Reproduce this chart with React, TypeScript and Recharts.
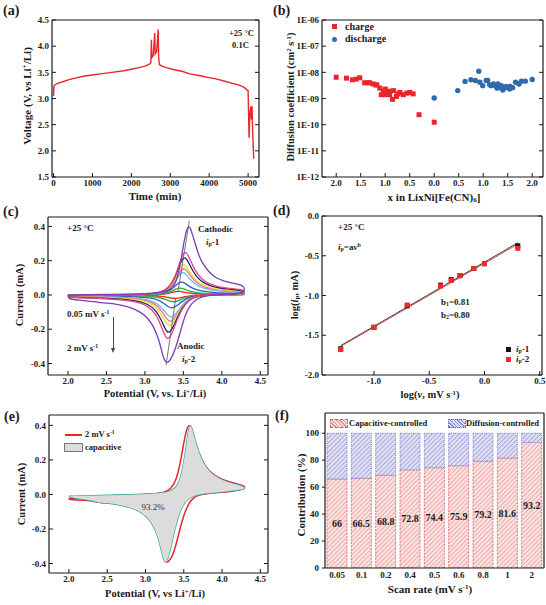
import React from 'react';
import { ComposedChart, Line, Scatter, XAxis, YAxis, BarChart, Bar, LabelList } from 'recharts';

const SERIF = '"Liberation Serif", "Times New Roman", serif';
const INK = '#1a1a1a';

// (a) GITT voltage profile, +25 °C, 0.1C
const timeMin = [0, 8, 30, 100, 200, 400, 600, 800, 1000, 1200, 1500, 1800, 2000, 2200, 2350, 2450, 2500, 2515, 2525, 2560, 2600, 2612, 2650, 2690, 2700, 2720, 2780, 2900, 3100, 3300, 3500, 3800, 4000, 4200, 4400, 4600, 4750, 4850, 4920, 4960, 5000, 5025, 5045, 5070, 5085, 5100, 5120, 5145];
const voltage = [3.05, 3.23, 3.26, 3.29, 3.31, 3.36, 3.4, 3.43, 3.45, 3.47, 3.5, 3.53, 3.56, 3.59, 3.62, 3.65, 3.68, 4.12, 3.78, 3.82, 4.25, 3.85, 3.9, 4.32, 3.8, 3.65, 3.62, 3.59, 3.55, 3.52, 3.47, 3.43, 3.4, 3.37, 3.33, 3.29, 3.26, 3.23, 3.2, 3.17, 3.15, 2.25, 2.7, 2.85, 2.6, 2.85, 2.3, 1.85];

// (b) diffusion coefficient vs Li content
const chargeLi = [2.0, 1.79, 1.67, 1.59, 1.52, 1.42, 1.35, 1.32, 1.25, 1.19, 1.17, 1.11, 1.08, 1.04, 1.01, 1.0, 0.97, 0.93, 0.91, 0.85, 0.83, 0.77, 0.74, 0.7, 0.63, 0.56, 0.5, 0.43, 0.31, 0.0];
const chargeD = [6.5e-9, 6.0e-9, 5.2e-9, 5.5e-9, 6.2e-9, 4.0e-9, 4.0e-9, 4.0e-9, 3.6e-9, 3.3e-9, 3.3e-9, 2.5e-9, 1.4e-9, 1.9e-9, 1.4e-9, 2.3e-9, 1.5e-9, 1.9e-9, 1.4e-9, 0.93e-9, 2.0e-9, 1.2e-9, 1.5e-9, 1.7e-9, 1.4e-9, 1.6e-9, 1.7e-9, 1.5e-9, 2.4e-10, 1.24e-10];
const dischargeLi = [0.0, 0.48, 0.63, 0.75, 0.84, 0.91, 0.93, 0.99, 1.06, 1.09, 1.13, 1.16, 1.21, 1.25, 1.28, 1.3, 1.33, 1.37, 1.4, 1.43, 1.47, 1.5, 1.54, 1.55, 1.6, 1.66, 1.73, 1.78, 1.86, 2.0];
const dischargeD = [1.05e-9, 2.0e-9, 4.5e-9, 5.2e-9, 4.9e-9, 1.1e-8, 4.2e-9, 3.1e-9, 4.9e-9, 4.9e-9, 3.4e-9, 3.1e-9, 3.6e-9, 3.1e-9, 2.5e-9, 3.6e-9, 2.6e-9, 3.1e-9, 2.1e-9, 2.6e-9, 2.9e-9, 2.6e-9, 2.3e-9, 2.9e-9, 2.6e-9, 4.2e-9, 3.6e-9, 4.6e-9, 4.6e-9, 5.3e-9];
const liTickPos = [0, 0.5, 1, 1.5, 2, 2.5, 3, 3.5, 4];
const liTickLabels = ['2.0', '1.5', '1.0', '0.5', '0.0', '0.5', '1.0', '1.5', '2.0'];
const logTicks = [1e-12, 1e-11, 1e-10, 1e-9, 1e-8, 1e-7, 1e-6];

// (c) CV loops at different scan rates, [V, mA]
const cvColors = ['#e8262a', '#35b236', '#3558c4', '#52c6e6', '#f26aa8', '#f0dc1e', '#1e2668', '#ec3f8e', '#7a3db6'];
const cv005 = [[2.0, -0.001], [2.6, 0.0], [3.0, 0.0], [3.13, 0.001], [3.23, 0.004], [3.31, 0.009], [3.37, 0.017], [3.41, 0.0205], [3.44, 0.021], [3.47, 0.02], [3.52, 0.015], [3.59, 0.01], [3.69, 0.006], [3.83, 0.004], [4.01, 0.003], [4.3, 0.003],
  [4.3, 0.001], [4.0, 0.0], [3.84, 0.0], [3.71, -0.001], [3.61, -0.004], [3.52, -0.01], [3.45, -0.017], [3.4, -0.02], [3.37, -0.0195], [3.33, -0.017], [3.28, -0.012], [3.22, -0.008], [3.13, -0.005], [2.94, -0.003], [2.59, -0.002], [2.0, -0.001]];
const cv01 = [[2.0, -0.001], [2.6, 0.0], [3.0, 0.001], [3.15, 0.002], [3.25, 0.007], [3.33, 0.018], [3.39, 0.032], [3.43, 0.039], [3.46, 0.04], [3.49, 0.038], [3.54, 0.029], [3.61, 0.019], [3.71, 0.012], [3.85, 0.008], [4.03, 0.006], [4.3, 0.005],
  [4.3, 0.001], [4.0, 0.0], [3.82, -0.001], [3.69, -0.002], [3.59, -0.008], [3.5, -0.02], [3.43, -0.034], [3.39, -0.039], [3.36, -0.04], [3.33, -0.037], [3.28, -0.028], [3.21, -0.017], [3.11, -0.01], [2.92, -0.005], [2.57, -0.003], [2.0, -0.002]];
const cv02 = [[2.0, -0.002], [2.6, 0.0], [3.0, 0.001], [3.17, 0.005], [3.27, 0.014], [3.35, 0.034], [3.41, 0.061], [3.45, 0.074], [3.48, 0.076], [3.51, 0.071], [3.56, 0.055], [3.63, 0.036], [3.73, 0.023], [3.87, 0.015], [4.05, 0.011], [4.3, 0.009],
  [4.3, 0.002], [4.0, 0.001], [3.8, -0.001], [3.67, -0.005], [3.57, -0.015], [3.48, -0.038], [3.41, -0.065], [3.37, -0.074], [3.34, -0.076], [3.31, -0.071], [3.26, -0.053], [3.19, -0.032], [3.09, -0.018], [2.9, -0.01], [2.55, -0.006], [2.0, -0.005]];
const cv04 = [[2.0, -0.003], [2.6, -0.001], [3.0, 0.001], [3.19, 0.008], [3.29, 0.024], [3.37, 0.059], [3.43, 0.106], [3.47, 0.128], [3.5, 0.132], [3.53, 0.124], [3.58, 0.095], [3.65, 0.063], [3.75, 0.04], [3.89, 0.026], [4.07, 0.02], [4.3, 0.016],
  [4.3, 0.004], [4.0, 0.001], [3.79, -0.001], [3.66, -0.008], [3.56, -0.026], [3.47, -0.065], [3.4, -0.111], [3.36, -0.127], [3.33, -0.13], [3.3, -0.121], [3.25, -0.091], [3.18, -0.055], [3.08, -0.031], [2.89, -0.017], [2.54, -0.01], [2.0, -0.008]];
const cv05 = [[2.0, -0.003], [2.6, -0.001], [3.0, 0.002], [3.2, 0.009], [3.3, 0.028], [3.38, 0.07], [3.44, 0.124], [3.48, 0.151], [3.51, 0.155], [3.54, 0.146], [3.59, 0.112], [3.66, 0.074], [3.76, 0.047], [3.9, 0.031], [4.08, 0.023], [4.3, 0.019],
  [4.3, 0.005], [4.0, 0.002], [3.78, -0.002], [3.65, -0.009], [3.55, -0.031], [3.46, -0.078], [3.39, -0.132], [3.35, -0.151], [3.32, -0.155], [3.29, -0.144], [3.24, -0.109], [3.17, -0.065], [3.07, -0.037], [2.88, -0.02], [2.53, -0.012], [2.0, -0.009]];
const cv06 = [[2.0, -0.004], [2.6, -0.001], [3.0, 0.002], [3.2, 0.011], [3.3, 0.032], [3.38, 0.08], [3.44, 0.142], [3.48, 0.173], [3.51, 0.178], [3.54, 0.167], [3.59, 0.128], [3.66, 0.085], [3.76, 0.053], [3.9, 0.036], [4.08, 0.027], [4.3, 0.021],
  [4.3, 0.006], [4.0, 0.002], [3.77, -0.002], [3.64, -0.011], [3.54, -0.036], [3.45, -0.09], [3.38, -0.153], [3.34, -0.175], [3.31, -0.18], [3.28, -0.167], [3.23, -0.126], [3.16, -0.076], [3.06, -0.043], [2.87, -0.023], [2.52, -0.014], [2.0, -0.011]];
const cv08 = [[2.0, -0.004], [2.6, -0.001], [3.0, 0.002], [3.21, 0.013], [3.31, 0.039], [3.39, 0.099], [3.45, 0.175], [3.49, 0.213], [3.52, 0.219], [3.55, 0.206], [3.6, 0.158], [3.67, 0.105], [3.77, 0.066], [3.91, 0.044], [4.09, 0.033], [4.3, 0.026],
  [4.3, 0.007], [4.0, 0.002], [3.76, -0.002], [3.63, -0.013], [3.53, -0.044], [3.44, -0.11], [3.37, -0.187], [3.33, -0.214], [3.3, -0.22], [3.27, -0.205], [3.22, -0.154], [3.15, -0.092], [3.05, -0.053], [2.86, -0.029], [2.51, -0.018], [2.0, -0.013]];
const cv1 = [[2.0, -0.005], [2.6, -0.001], [3.0, 0.003], [3.22, 0.015], [3.32, 0.045], [3.4, 0.113], [3.46, 0.201], [3.5, 0.244], [3.53, 0.251], [3.56, 0.236], [3.61, 0.181], [3.68, 0.12], [3.78, 0.075], [3.92, 0.05], [4.1, 0.038], [4.3, 0.03],
  [4.3, 0.008], [4.0, 0.003], [3.75, -0.003], [3.62, -0.015], [3.52, -0.051], [3.43, -0.129], [3.36, -0.218], [3.32, -0.25], [3.29, -0.257], [3.26, -0.239], [3.21, -0.18], [3.14, -0.108], [3.04, -0.062], [2.85, -0.033], [2.5, -0.021], [2.0, -0.015]];
const cv2 = [[2.0, 0.0], [2.3, 0.002], [2.6, 0.004], [2.9, 0.006], [3.1, 0.01], [3.25, 0.018], [3.35, 0.035], [3.4, 0.07], [3.45, 0.15], [3.5, 0.29], [3.53, 0.36], [3.55, 0.39], [3.57, 0.4], [3.59, 0.395], [3.62, 0.35], [3.66, 0.29], [3.7, 0.23], [3.76, 0.175], [3.84, 0.13], [3.92, 0.1], [4.02, 0.082], [4.15, 0.068], [4.3, 0.055],
  [4.3, 0.012], [4.1, 0.006], [3.9, 0.002], [3.75, -0.008], [3.65, -0.03], [3.58, -0.065], [3.52, -0.12], [3.47, -0.2], [3.42, -0.28], [3.37, -0.345], [3.33, -0.38], [3.3, -0.393], [3.28, -0.395], [3.25, -0.38], [3.22, -0.33], [3.18, -0.26], [3.12, -0.19], [3.05, -0.14], [2.95, -0.1], [2.8, -0.07], [2.65, -0.055], [2.5, -0.047], [2.42, -0.046], [2.38, -0.04], [2.3, -0.038], [2.15, -0.03], [2.0, -0.024], [2.0, 0.0]];
const cvLoops = [cv005, cv01, cv02, cv04, cv05, cv06, cv08, cv1, cv2];
const peakShiftUp = [[3.43, 0.02], [3.578, 0.434]];
const peakShiftDown = [[3.4, -0.02], [3.275, -0.41]];

// (d) log(ip) vs log(v)
const logRate = [-1.301, -1.0, -0.699, -0.398, -0.301, -0.222, -0.097, 0.0, 0.301];
const logIp1 = [-1.67, -1.4, -1.13, -0.87, -0.8, -0.75, -0.66, -0.6, -0.375];
const logIp2 = [-1.68, -1.4, -1.12, -0.88, -0.81, -0.75, -0.66, -0.6, -0.407];
const fitIp1 = [[-1.3, -1.63], [0.3, -0.338]];
const fitIp2 = [[-1.3, -1.64], [0.3, -0.355]];

// (e) 2 mV/s CV and capacitive contribution
const cvTotal = [[2.0, -0.025], [2.1, -0.018], [2.4, -0.012], [2.8, -0.005], [3.1, 0.003], [3.25, 0.012], [3.33, 0.03], [3.4, 0.08], [3.45, 0.17], [3.5, 0.3], [3.54, 0.385], [3.57, 0.405], [3.6, 0.385], [3.64, 0.32], [3.7, 0.23], [3.78, 0.16], [3.88, 0.115], [4.0, 0.085], [4.15, 0.065], [4.3, 0.052],
  [4.3, 0.03], [4.15, 0.02], [4.0, 0.013], [3.8, 0.005], [3.7, -0.002], [3.62, -0.02], [3.56, -0.055], [3.5, -0.12], [3.45, -0.2], [3.4, -0.29], [3.35, -0.36], [3.3, -0.39], [3.28, -0.395], [3.25, -0.375], [3.22, -0.32], [3.18, -0.25], [3.12, -0.18], [3.05, -0.13], [2.95, -0.095], [2.8, -0.07], [2.6, -0.052], [2.48, -0.047], [2.42, -0.05], [2.35, -0.04], [2.2, -0.033], [2.0, -0.03], [2.0, -0.025]];
const cvCapacitive = [[2.0, -0.01], [2.4, -0.006], [2.8, -0.002], [3.1, 0.004], [3.25, 0.01], [3.35, 0.022], [3.42, 0.05], [3.47, 0.11], [3.52, 0.24], [3.55, 0.34], [3.575, 0.405], [3.6, 0.395], [3.64, 0.33], [3.7, 0.235], [3.78, 0.16], [3.88, 0.112], [4.0, 0.082], [4.15, 0.06], [4.3, 0.045],
  [4.3, 0.03], [4.15, 0.022], [4.0, 0.015], [3.8, 0.006], [3.7, 0.0], [3.6, -0.012], [3.52, -0.04], [3.45, -0.095], [3.4, -0.17], [3.35, -0.27], [3.3, -0.36], [3.27, -0.4], [3.24, -0.385], [3.21, -0.33], [3.17, -0.255], [3.11, -0.185], [3.03, -0.135], [2.93, -0.098], [2.8, -0.075], [2.6, -0.055], [2.48, -0.048], [2.42, -0.05], [2.35, -0.04], [2.2, -0.028], [2.0, -0.015], [2.0, -0.01]];

// (f) contribution ratio
const scanRates = ['0.05', '0.1', '0.2', '0.4', '0.5', '0.6', '0.8', '1', '2'];
const capacitivePct = [66, 66.5, 68.8, 72.8, 74.4, 75.9, 79.2, 81.6, 93.2];
const diffusionPct = [34, 33.5, 31.2, 27.2, 25.6, 24.1, 20.8, 18.4, 6.8];

type Rect = { l: number; t: number; r: number; b: number };
const YW = 40;
const MT = 8;
const MR = 14;
const XH = 24;

const boxOf = (p: Rect) => ({
  left: p.l - YW,
  top: p.t - MT - 1,
  width: YW + (p.r - p.l) + 1 + MR,
  height: MT + 1 + (p.b - p.t) + XH,
});
const chartMargin = { top: MT, right: MR, left: 0, bottom: 0 };

const A: Rect = { l: 52, t: 20, r: 259, b: 177 };
const B: Rect = { l: 322, t: 20, r: 543, b: 177 };
const C: Rect = { l: 48, t: 217, r: 268, b: 375 };
const D: Rect = { l: 322, t: 216, r: 542, b: 375 };
const E: Rect = { l: 49, t: 415, r: 268, b: 573 };
const F: Rect = { l: 325, t: 413, r: 544, b: 568 };

const tickFont = { fontSize: 9, fontFamily: SERIF, fontWeight: 700, fill: INK };
const axisLine = { stroke: INK, strokeWidth: 1.2 };
const tickLine = { stroke: INK, strokeWidth: 1 };
const blank = () => '';
const fix1 = (v: number) => v.toFixed(1);
const toPts = (arr: number[][]) => arr.map(([x, y]) => ({ x, y }));
const zip = (xs: number[], ys: number[]) => xs.map((x, i) => ({ x, y: ys[i] }));

// bottom + left axes with inward ticks, top + right mirrored for the frame
function axes(xDomain: number[], xTicks: number[], yDomain: number[], yTicks: number[], xFmt: any = fix1, yFmt: any = fix1, yScale: any = 'auto') {
  return [
    <XAxis key="xb" dataKey="x" type="number" domain={xDomain} ticks={xTicks} allowDataOverflow height={XH}
      tickFormatter={xFmt} tick={tickFont} axisLine={axisLine} tickLine={tickLine} tickSize={-4} tickMargin={7} interval={0} />,
    <XAxis key="xt" xAxisId="top" orientation="top" type="number" domain={xDomain} ticks={xTicks} allowDataOverflow height={1}
      tickFormatter={blank} axisLine={axisLine} tickLine={tickLine} tickSize={-4} interval={0} />,
    <YAxis key="yl" dataKey="y" type="number" domain={yDomain} ticks={yTicks} allowDataOverflow width={YW} scale={yScale}
      tickFormatter={yFmt} tick={tickFont} axisLine={axisLine} tickLine={tickLine} tickSize={-4} tickMargin={7} interval={0} />,
    <YAxis key="yr" yAxisId="right" orientation="right" type="number" domain={yDomain} ticks={yTicks} allowDataOverflow width={1} scale={yScale}
      tickFormatter={blank} axisLine={axisLine} tickLine={tickLine} tickSize={-4} interval={0} />,
  ];
}

const Txt: React.FC<{ x: number; y: number; size?: number; align?: 'left' | 'center'; rotate?: boolean; weight?: number; color?: string; children: React.ReactNode }> = ({
  x, y, size = 9, align = 'left', rotate = false, weight = 700, color = INK, children,
}) => (
  <div
    style={{
      position: 'absolute',
      left: x,
      top: y,
      transform: rotate ? 'translate(-50%, -50%) rotate(-90deg)' : align === 'center' ? 'translate(-50%, -50%)' : 'translate(0, -50%)',
      fontFamily: SERIF,
      fontWeight: weight,
      fontSize: size,
      color,
      whiteSpace: 'nowrap',
      lineHeight: 1,
    }}
  >
    {children}
  </div>
);

const sup = (s: string) => <sup style={{ fontSize: '0.65em', verticalAlign: '0.45em', lineHeight: 0 }}>{s}</sup>;
const sub = (s: string) => <sub style={{ fontSize: '0.65em', verticalAlign: '-0.25em', lineHeight: 0 }}>{s}</sub>;

const square = (color: string, s = 5) => (p: any) => <rect x={p.cx - s / 2} y={p.cy - s / 2} width={s} height={s} fill={color} />;
const circle = (color: string, r = 2.7) => (p: any) => <circle cx={p.cx} cy={p.cy} r={r} fill={color} />;
const noShape = () => <g />;

const Panel: React.FC<{ rect: Rect; children: (w: number, h: number) => React.ReactNode }> = ({ rect, children }) => {
  const b = boxOf(rect);
  return <div style={{ position: 'absolute', left: b.left, top: b.top }}>{children(b.width, b.height)}</div>;
};

export default function App() {
  const gittData = zip(timeMin, voltage);
  const chargeData = chargeLi.map((li, i) => ({ x: 2 - li, y: chargeD[i] }));
  const dischargeData = dischargeLi.map((li, i) => ({ x: 2 + li, y: dischargeD[i] }));
  const barData = scanRates.map((rate, i) => ({ rate, cap: capacitivePct[i], dif: diffusionPct[i] }));
  const logFmt = (v: number) => `1E-${String(Math.round(-Math.log10(v))).padStart(2, '0')}`;
  const liFmt = (v: number) => liTickLabels[liTickPos.indexOf(v)] ?? '';

  return (
    <div style={{ position: 'absolute', left: 0, top: 0, width: 546, height: 605, background: '#fff', overflow: 'hidden' }}>
      {/* (a) */}
      <Panel rect={A}>
        {(w, h) => (
          <ComposedChart width={w} height={h} margin={chartMargin}>
            {axes([-40, 5280], [0, 1000, 2000, 3000, 4000, 5000], [1.5, 4.5], [1.5, 2.0, 2.5, 3.0, 3.5, 4.0, 4.5], (v: number) => String(v))}
            <Line data={gittData} dataKey="y" type="linear" stroke="#e8262a" strokeWidth={1.4} dot={false} isAnimationActive={false} />
          </ComposedChart>
        )}
      </Panel>

      {/* (b) */}
      <Panel rect={B}>
        {(w, h) => (
          <ComposedChart width={w} height={h} margin={chartMargin}>
            {axes([-0.29, 4.22], liTickPos, [1e-12, 1e-6], logTicks, liFmt, logFmt, 'log')}
            <Scatter data={chargeData} shape={square('#e8262a')} isAnimationActive={false} />
            <Scatter data={dischargeData} shape={circle('#2f6aab')} isAnimationActive={false} />
          </ComposedChart>
        )}
      </Panel>

      {/* (c) */}
      <Panel rect={C}>
        {(w, h) => (
          <ComposedChart width={w} height={h} margin={chartMargin}>
            {axes([1.74, 4.6], [2.0, 2.5, 3.0, 3.5, 4.0, 4.5], [-0.467, 0.455], [-0.4, -0.2, 0.0, 0.2, 0.4])}
            {cvLoops.map((loop, k) => (
              <Line key={k} data={toPts(loop)} dataKey="y" type="basis" stroke={cvColors[k]} strokeWidth={1.3} dot={false} isAnimationActive={false} />
            ))}
            <Line data={toPts(peakShiftUp)} dataKey="y" type="linear" stroke="#555" strokeWidth={0.8} dot={false} isAnimationActive={false} />
            <Line data={toPts(peakShiftDown)} dataKey="y" type="linear" stroke="#555" strokeWidth={0.8} dot={false} isAnimationActive={false} />
          </ComposedChart>
        )}
      </Panel>

      {/* (d) */}
      <Panel rect={D}>
        {(w, h) => (
          <ComposedChart width={w} height={h} margin={chartMargin}>
            {axes([-1.47, 0.52], [-1.0, -0.5, 0.0, 0.5], [-2, 0], [-2.0, -1.5, -1.0, -0.5, 0.0])}
            <Line data={toPts(fitIp1)} dataKey="y" type="linear" stroke="#333" strokeWidth={1} dot={false} isAnimationActive={false} />
            <Line data={toPts(fitIp2)} dataKey="y" type="linear" stroke="#d9534f" strokeWidth={1} dot={false} isAnimationActive={false} />
            <Scatter data={zip(logRate, logIp1)} shape={square('#111')} isAnimationActive={false} />
            <Scatter data={zip(logRate, logIp2)} shape={square('#ee2a2a')} isAnimationActive={false} />
          </ComposedChart>
        )}
      </Panel>

      {/* (e) */}
      <Panel rect={E}>
        {(w, h) => (
          <ComposedChart width={w} height={h} margin={chartMargin}>
            {axes([1.74, 4.6], [2.0, 2.5, 3.0, 3.5, 4.0, 4.5], [-0.455, 0.46], [-0.4, -0.2, 0.0, 0.2, 0.4])}
            <Scatter data={toPts(cvCapacitive)} shape={noShape} line={{ fill: '#dcdcdc', stroke: 'none' }} lineJointType="basis" isAnimationActive={false} />
            <Line data={toPts(cvTotal)} dataKey="y" type="basis" stroke="#e8262a" strokeWidth={1.5} dot={false} isAnimationActive={false} />
            <Line data={toPts(cvCapacitive)} dataKey="y" type="basis" stroke="#2aa5a0" strokeWidth={1.3} dot={false} isAnimationActive={false} />
          </ComposedChart>
        )}
      </Panel>

      {/* (f) */}
      <Panel rect={F}>
        {(w, h) => (
          <BarChart width={w} height={h} data={barData} margin={chartMargin} barSize={20}>
            <defs>
              <pattern id="hatchCap" width="3.2" height="3.2" patternUnits="userSpaceOnUse" patternTransform="rotate(45)">
                <rect width="3.2" height="3.2" fill="#fbe0e0" />
                <line x1="0" y1="0" x2="0" y2="3.2" stroke="#e58a8a" strokeWidth="1.1" />
              </pattern>
              <pattern id="hatchDif" width="3.2" height="3.2" patternUnits="userSpaceOnUse" patternTransform="rotate(45)">
                <rect width="3.2" height="3.2" fill="#dedef2" />
                <line x1="0" y1="0" x2="0" y2="3.2" stroke="#8a8ad0" strokeWidth="1.1" />
              </pattern>
            </defs>
            <XAxis dataKey="rate" height={XH} tick={tickFont} axisLine={axisLine} tickLine={false} tickSize={0} tickMargin={4} interval={0} />
            <XAxis xAxisId="top" orientation="top" type="number" domain={[0, 1]} height={1} tick={false} tickLine={false} axisLine={axisLine} />
            <YAxis type="number" domain={[0, 115]} ticks={[0, 20, 40, 60, 80, 100]} allowDataOverflow width={YW} tick={tickFont} axisLine={axisLine} tickLine={tickLine} tickSize={3} tickMargin={3} interval={0} />
            <YAxis yAxisId="right" orientation="right" type="number" domain={[0, 1]} width={1} tick={false} tickLine={false} axisLine={axisLine} />
            <Bar dataKey="cap" stackId="s" fill="url(#hatchCap)" stroke="#e25c5c" strokeWidth={0.8} strokeDasharray="2 1.2" isAnimationActive={false}>
              <LabelList dataKey="cap" position="center" style={{ fontFamily: SERIF, fontWeight: 700, fontSize: 10, fill: INK }} />
            </Bar>
            <Bar dataKey="dif" stackId="s" fill="url(#hatchDif)" stroke="#5a5ad0" strokeWidth={0.8} strokeDasharray="1 1.2" isAnimationActive={false} />
          </BarChart>
        )}
      </Panel>

      {/* panel letters */}
      <Txt x={3} y={11} size={14}>(a)</Txt>
      <Txt x={273} y={11} size={14}>(b)</Txt>
      <Txt x={3} y={212} size={14}>(c)</Txt>
      <Txt x={273} y={211} size={14}>(d)</Txt>
      <Txt x={4} y={417} size={14}>(e)</Txt>
      <Txt x={275} y={416} size={14}>(f)</Txt>

      {/* axis titles */}
      <Txt x={155} y={196} size={11} align="center">Time (min)</Txt>
      <Txt x={27} y={96} size={11} rotate>Voltage (V, vs Li{sup('+')}/Li)</Txt>
      <Txt x={434} y={197} size={11} align="center">x in LixNi[Fe(CN){sub('6')}]</Txt>
      <Txt x={291} y={97} size={10.5} rotate>Diffusion coefficient (cm{sup('2')} s{sup('-1')})</Txt>
      <Txt x={155} y={394} size={10.5} align="center">Potential (V, vs. Li{sup('+')}/Li)</Txt>
      <Txt x={20} y={295} size={10.5} rotate>Current (mA)</Txt>
      <Txt x={430} y={395} size={10.5} align="center">log(<i>v</i>, mV s{sup('-1')})</Txt>
      <Txt x={295} y={295} size={10.5} rotate>log(<i>i</i>{sub('p')}, mA)</Txt>
      <Txt x={155} y={594} size={10.5} align="center">Potential (V, vs Li{sup('+')}/Li)</Txt>
      <Txt x={22} y={494} size={10.5} rotate>Current (mA)</Txt>
      <Txt x={430} y={589} size={11} align="center">Scan rate (mV s{sup('-1')})</Txt>
      <Txt x={301} y={495} size={11} rotate>Contribution (%)</Txt>

      {/* (a) notes */}
      <Txt x={229} y={33} size={8.5}>+25 °C</Txt>
      <Txt x={232} y={45} size={8.5}>0.1C</Txt>

      {/* (b) legend */}
      <div style={{ position: 'absolute', left: 332, top: 24, width: 5, height: 5, background: '#e8262a' }} />
      <Txt x={345} y={27} size={10}>charge</Txt>
      <div style={{ position: 'absolute', left: 332, top: 36.5, width: 5.4, height: 5.4, borderRadius: 3, background: '#2f6aab' }} />
      <Txt x={345} y={39} size={10}>discharge</Txt>

      {/* (c) notes */}
      <Txt x={67} y={228} size={9}>+25 °C</Txt>
      <Txt x={198} y={229} size={9}>Cathodic</Txt>
      <Txt x={206} y={242} size={9}><i>i</i>{sub('p')}-1</Txt>
      <Txt x={177} y={346} size={9}>Anodic</Txt>
      <Txt x={182} y={359} size={9}><i>i</i>{sub('p')}-2</Txt>
      <Txt x={67} y={314} size={9}>0.05 mV s{sup('-1')}</Txt>
      <Txt x={67} y={348} size={9}>2 mV s{sup('-1')}</Txt>
      <div style={{ position: 'absolute', left: 113, top: 317, width: 0.8, height: 32, background: '#444' }} />
      <div style={{ position: 'absolute', left: 111, top: 348, width: 0, height: 0, borderLeft: '2.4px solid transparent', borderRight: '2.4px solid transparent', borderTop: '5px solid #444' }} />

      {/* (d) notes */}
      <Txt x={338} y={227} size={9}>+25 °C</Txt>
      <Txt x={338} y={247} size={9}><i>i</i>{sub('p')}=a<i>v</i>{sup('b')}</Txt>
      <Txt x={441} y={302} size={9}>b{sub('1')}=0.81</Txt>
      <Txt x={441} y={315} size={9}>b{sub('2')}=0.80</Txt>
      <div style={{ position: 'absolute', left: 506, top: 347, width: 4.5, height: 4.5, background: '#111' }} />
      <Txt x={516} y={349} size={9}><i>i</i>{sub('p')}-1</Txt>
      <div style={{ position: 'absolute', left: 506, top: 357, width: 4.5, height: 4.5, background: '#ee2a2a' }} />
      <Txt x={516} y={359} size={9}><i>i</i>{sub('p')}-2</Txt>

      {/* (e) notes */}
      <div style={{ position: 'absolute', left: 65, top: 434, width: 17, height: 1.6, background: '#e8262a' }} />
      <Txt x={85} y={434} size={8.5}>2 mV s{sup('-1')}</Txt>
      <div style={{ position: 'absolute', left: 64, top: 443, width: 17, height: 7, background: '#dcdcdc', border: '0.8px solid #777' }} />
      <Txt x={85} y={447} size={8.5}>capacitive</Txt>
      <Txt x={153} y={507} size={9} weight={400} align="center" color="#333">93.2%</Txt>

      {/* (f) legend */}
      <div style={{ position: 'absolute', left: 330, top: 419, width: 16, height: 7, border: '0.8px dashed #e25c5c', background: 'repeating-linear-gradient(45deg, #e58a8a 0 1px, #fbe0e0 1px 2.6px)' }} />
      <Txt x={349} y={423} size={8.5}>Capacitive-controlled</Txt>
      <div style={{ position: 'absolute', left: 448, top: 419, width: 16, height: 7, border: '0.8px dotted #5a5ad0', background: 'repeating-linear-gradient(45deg, #8a8ad0 0 1px, #dedef2 1px 2.6px)' }} />
      <Txt x={466} y={423} size={8.5}>Diffusion-controlled</Txt>
    </div>
  );
}
